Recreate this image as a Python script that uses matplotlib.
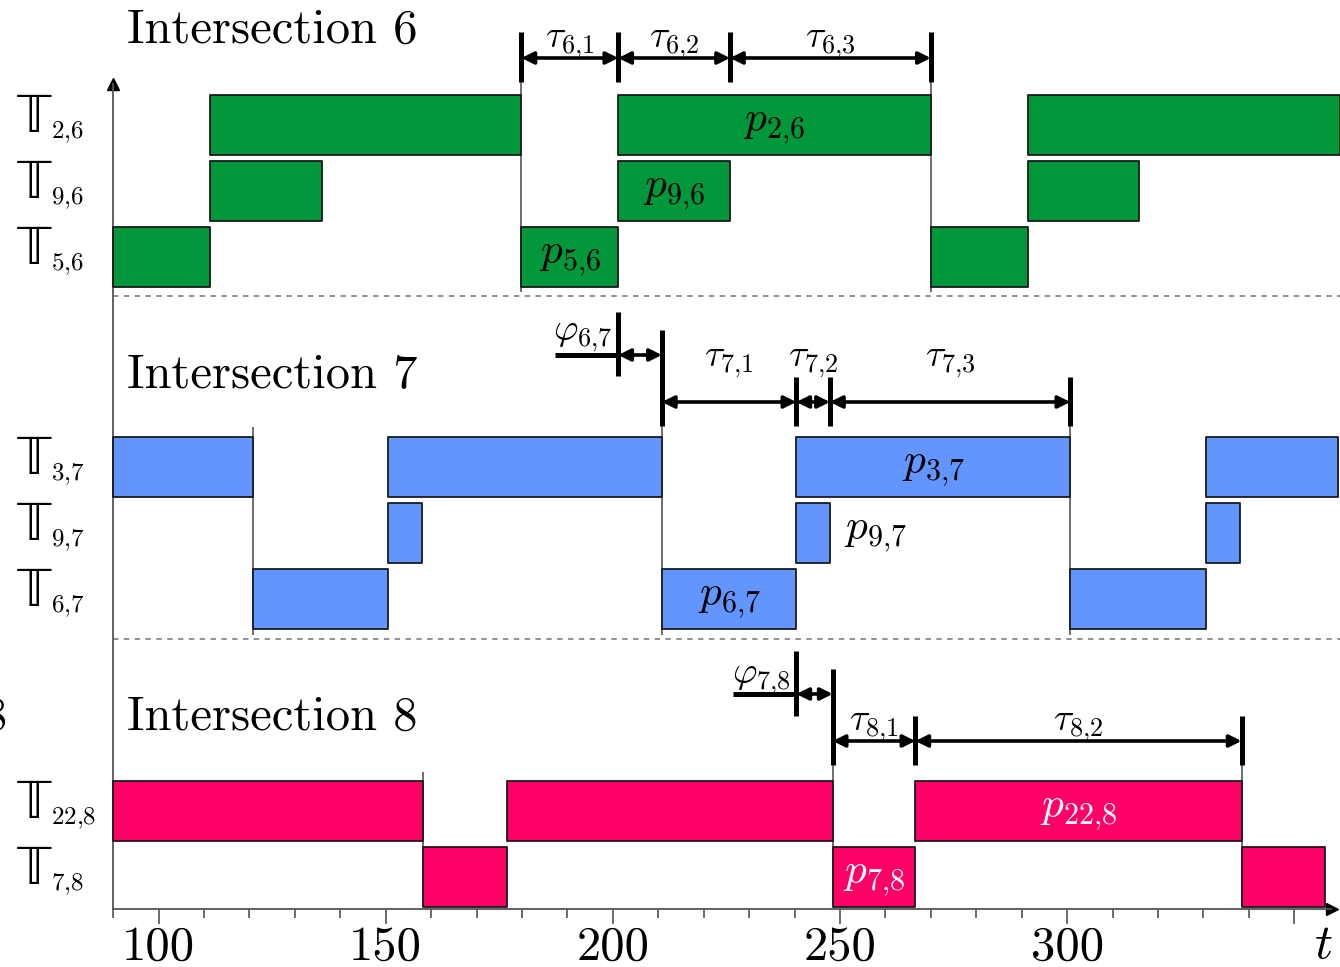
import matplotlib.pyplot as plt
from matplotlib.ticker import FixedLocator

plt.rcParams['mathtext.fontset'] = 'cm'

# signal phase intervals (start, end) in seconds
t_2_6 = [(111.3, 179.9), (201.2, 270.0), (291.5, 360.0)]
t_9_6 = [(111.3, 136.0), (201.2, 225.8), (291.5, 315.8)]
t_5_6 = [(90.0, 111.3), (179.9, 201.2), (270.0, 291.5)]

t_3_7 = [(90.0, 120.9), (150.5, 210.8), (240.4, 300.7), (330.5, 359.6)]
t_9_7 = [(150.5, 158.1), (240.4, 247.8), (330.5, 338.1)]
t_6_7 = [(120.9, 150.5), (210.8, 240.4), (300.7, 330.5)]

t_22_8 = [(90.0, 158.3), (176.8, 248.4), (266.6, 338.4)]
t_7_8 = [(158.3, 176.8), (248.4, 266.6), (338.4, 356.8)]

# cycle markers
tau6 = [179.9, 201.2, 225.8, 270.0]
tau7 = [210.8, 240.4, 247.8, 300.7]
tau8 = [248.4, 266.6, 338.4]
phi67 = [187.3, 201.2, 210.8]   # line start, phi bar, cycle start
phi78 = [226.4, 240.4, 248.4]

# cycle start lines
cyc6 = [179.9, 270.0]
cyc7 = [120.9, 210.8, 300.7]
cyc8 = [158.3, 248.4, 338.4]

xticks = [100, 150, 200, 250, 300, 350]
xticklabels = ['100', '150', '200', '250', '300', '']
minor_ticks = [v for v in range(90, 360, 10) if v % 50 != 0]

green = '#02973a'
blue = '#6395ff'
pink = '#ff0066'

fig = plt.figure(figsize=(13.4, 9.67), dpi=100)
ax = fig.add_axes([0, 0, 1, 1])
ax.set_xlim(65.11, 360.07)
ax.set_ylim(967, 0)

# rows: (intervals, top, colour, subscript)
rows = [
    (t_2_6, 95, green, '2{,}6'),
    (t_9_6, 161, green, '9{,}6'),
    (t_5_6, 227, green, '5{,}6'),
    (t_3_7, 437, blue, '3{,}7'),
    (t_9_7, 503, blue, '9{,}7'),
    (t_6_7, 569, blue, '6{,}7'),
    (t_22_8, 781, pink, '22{,}8'),
    (t_7_8, 847, pink, '7{,}8'),
]
h = 60
for iv, top, col, sub in rows:
    ax.broken_barh([(a, b - a) for a, b in iv], (top, h), facecolors=col,
                   edgecolor='#1a1a1a', linewidth=1.3, zorder=3, clip_on=False)
    ax.text(68.5, top + 37, r'$\mathrm{𝕋}$', fontsize=41, ha='left', va='baseline')
    ax.text(76.4, top + 43, r'$%s$' % sub, fontsize=18, ha='left', va='baseline')

# thin lines at cycle starts
ax.vlines(cyc6, 82, 292, color='#555555', lw=1.2, zorder=2)
ax.vlines(cyc7[0], 427, 635, color='#555555', lw=1.2, zorder=2)
ax.vlines(cyc7[1:], 420, 635, color='#555555', lw=1.2, zorder=2)
ax.vlines(cyc8[0], 772, 907, color='#555555', lw=1.2, zorder=2)
ax.vlines(cyc8[1:], 760, 907, color='#555555', lw=1.2, zorder=2)

# separators
ax.hlines([296, 638.5], 90, 360, color='#888888', lw=1.3, linestyles=(0, (3, 3)))


def darrow(x1, x2, y):
    ax.annotate('', xy=(x2, y), xytext=(x1, y),
                arrowprops=dict(arrowstyle='<|-|>', lw=2.6, color='k',
                                mutation_scale=18, shrinkA=0, shrinkB=0))


# intersection 6 cycle
ax.vlines(tau6, 32, 82, color='k', lw=3.6)
for i in range(len(tau6) - 1):
    darrow(tau6[i], tau6[i + 1], 58)
    ax.text((tau6[i] + tau6[i + 1]) / 2, 47, r'$\tau_{6{,}%d}$' % (i + 1),
            fontsize=27, ha='center', va='baseline')

# intersection 7 offset and cycle
ax.plot([phi67[0], phi67[1]], [355, 355], color='k', lw=3.6, solid_capstyle='butt')
ax.vlines(phi67[1], 312, 376, color='k', lw=3.6)
ax.vlines(phi67[2], 330, 426, color='k', lw=3.6)
darrow(phi67[1], phi67[2], 355)
ax.text(phi67[1] - 1.2, 340, r'$\varphi_{6{,}7}$', fontsize=27, ha='right', va='baseline')
ax.vlines(tau7[1:], 377, 426, color='k', lw=3.6)
for i in range(len(tau7) - 1):
    darrow(tau7[i], tau7[i + 1], 402)
    ax.text((tau7[i] + tau7[i + 1]) / 2, 366, r'$\tau_{7{,}%d}$' % (i + 1),
            fontsize=27, ha='center', va='baseline')

# intersection 8 offset and cycle
ax.plot([phi78[0], phi78[1]], [694, 694], color='k', lw=3.6, solid_capstyle='butt')
ax.vlines(phi78[1], 651, 716, color='k', lw=3.6)
ax.vlines(phi78[2], 669, 765, color='k', lw=3.6)
darrow(phi78[1], phi78[2], 694)
ax.text(phi78[1] - 1.2, 683, r'$\varphi_{7{,}8}$', fontsize=27, ha='right', va='baseline')
ax.vlines(tau8[1:], 716, 765, color='k', lw=3.6)
for i in range(len(tau8) - 1):
    darrow(tau8[i], tau8[i + 1], 741)
    ax.text((tau8[i] + tau8[i + 1]) / 2, 730, r'$\tau_{8{,}%d}$' % (i + 1),
            fontsize=27, ha='center', va='baseline')

# phase labels
mid = lambda iv: (iv[0] + iv[1]) / 2
ax.text(mid(t_2_6[1]), 125, r'$p_{2{,}6}$', fontsize=31, ha='center', va='center')
ax.text(mid(t_9_6[1]), 191, r'$p_{9{,}6}$', fontsize=31, ha='center', va='center')
ax.text(mid(t_5_6[1]), 257, r'$p_{5{,}6}$', fontsize=31, ha='center', va='center')
ax.text(mid(t_3_7[2]), 467, r'$p_{3{,}7}$', fontsize=31, ha='center', va='center')
ax.text(t_9_7[1][1] + 3, 533, r'$p_{9{,}7}$', fontsize=31, ha='left', va='center')
ax.text(mid(t_6_7[1]), 599, r'$p_{6{,}7}$', fontsize=31, ha='center', va='center')
ax.text(mid(t_22_8[2]), 811, r'$p_{22{,}8}$', fontsize=31, ha='center', va='center', color='white')
ax.text(mid(t_7_8[1]), 877, r'$p_{7{,}8}$', fontsize=31, ha='center', va='center', color='white')

# titles
for y, s in [(43, 'Intersection 6'), (388, 'Intersection 7'), (730, 'Intersection 8')]:
    ax.text(93.0, y, s, fontsize=35, family='cmr10', ha='left', va='baseline')
ax.text(66.6, 730, '8', fontsize=35, family='cmr10', ha='right', va='baseline')

# axes
for s in ['top', 'right']:
    ax.spines[s].set_visible(False)
ax.spines['bottom'].set_position(('data', 909))
ax.spines['bottom'].set_bounds(90, 358)
ax.spines['left'].set_position(('data', 90))
ax.spines['left'].set_bounds(84, 909)
for s in ['bottom', 'left']:
    ax.spines[s].set_color('#555555')
    ax.spines[s].set_linewidth(1.3)
ax.plot(358.2, 909, '>', color='k', ms=9, clip_on=False)
ax.plot(90, 84, '^', color='k', ms=9, clip_on=False)

ax.set_yticks([])
ax.set_xticks(xticks)
ax.set_xticklabels(xticklabels, family='cmr10', fontsize=35)
ax.xaxis.set_minor_locator(FixedLocator(minor_ticks))
ax.tick_params(axis='x', which='major', length=11, width=1.1, pad=1, color='#444444')
ax.tick_params(axis='x', which='minor', length=6.5, width=1.1, color='#444444')
ax.text(356.3, 958, r'$t$', fontsize=36, ha='center', va='baseline')

fig.savefig('out.png', dpi=100)
